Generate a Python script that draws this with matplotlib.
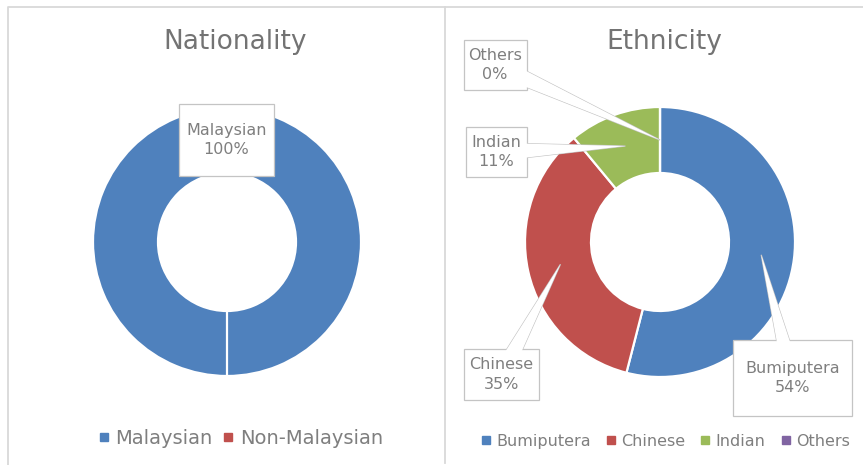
import numpy as np
import matplotlib.pyplot as plt
from matplotlib.lines import Line2D
from matplotlib.patches import Rectangle, Polygon

# ── Data ───────────────────────────────────────────────────────────────────
nat_labels = ["Malaysian", "Non-Malaysian"]
nat_values = [100, 0]
eth_labels = ["Bumiputera", "Chinese", "Indian", "Others"]
eth_values = [54, 35, 11, 0]

colors = ["#4F81BD", "#C0504D", "#9BBB59", "#8064A2"]

# ── Layout (pixel coords, y measured from the top) ────────────────────────
W, H = 863, 465
TXT = "#7f7f7f"
LINE = "#d9d9d9"
BOXEDGE = "#c4c4c4"

# label boxes: centre x, centre y, width, height
nat_boxes = {"Malaysian": (226.5, 140, 95, 72)}
eth_boxes = {
    "Bumiputera": (792.5, 378, 119, 76),
    "Chinese":    (501.5, 374.5, 75, 51),
    "Indian":     (496.5, 152, 61, 50),
    "Others":     (495, 65, 63, 50),
}

plt.rcParams["font.family"] = ["DejaVu Sans"]

fig = plt.figure(figsize=(W / 100, H / 100), dpi=100)
ax = fig.add_axes([0, 0, 1, 1])


def Y(y):
    return H - y


def donut(values, cx, cy, radius, width, start):
    wedges, _ = ax.pie(values, colors=colors[:len(values)], startangle=start,
                       counterclock=False, center=(cx, Y(cy)), radius=radius,
                       wedgeprops=dict(width=width, edgecolor="white",
                                       linewidth=1.6))
    return wedges


def anchor(w):
    ang = np.deg2rad((w.theta1 + w.theta2) / 2)
    r = w.r - w.width / 2
    return w.center[0] + r * np.cos(ang), w.center[1] + r * np.sin(ang)


def callout(text, box, target=None):
    bx, by, bw, bh = box
    cx, cy = bx, Y(by)
    if target is not None:
        tx, ty = target
        d = np.array([tx - cx, ty - cy])
        n = np.array([-d[1], d[0]]) / np.hypot(*d) * 9
        pts = [(cx + n[0], cy + n[1]), (tx, ty), (cx - n[0], cy - n[1])]
        ax.add_patch(Polygon(pts, closed=True, fc="white", ec=BOXEDGE,
                             lw=0.9, zorder=3))
    ax.add_patch(Rectangle((cx - bw / 2, cy - bh / 2), bw, bh, fc="white",
                           ec=BOXEDGE, lw=0.9, zorder=4))
    if target is not None:
        ax.add_patch(Polygon(pts, closed=True, fc="white", ec="none",
                             lw=0, zorder=5))
    ax.text(cx, cy, text, ha="center", va="center", fontsize=11.5,
            color=TXT, linespacing=1.35, zorder=6)


# ── Nationality ───────────────────────────────────────────────────────────
w_nat = donut(nat_values, 227, 242, 134, 65, -90)
for w, lab, v in zip(w_nat, nat_labels, nat_values):
    if lab in nat_boxes:
        callout(f"{lab}\n{v}%", nat_boxes[lab])

ax.text(235, Y(42), "Nationality", ha="center", va="center", fontsize=19,
        color="#737373")

# ── Ethnicity ─────────────────────────────────────────────────────────────
w_eth = donut(eth_values, 660, 242, 135, 66, 90)
for w, lab, v in zip(w_eth, eth_labels, eth_values):
    callout(f"{lab}\n{v}%", eth_boxes[lab], anchor(w))

ax.text(664, Y(42), "Ethnicity", ha="center", va="center", fontsize=19,
        color="#737373")

# ── Legends ───────────────────────────────────────────────────────────────
def handles(n):
    return [Line2D([], [], marker="s", ls="none", color=c, markersize=5.5)
            for c in colors[:n]]


leg1 = ax.legend(handles(2), nat_labels, loc="center",
                 bbox_to_anchor=(241, Y(438)), bbox_transform=ax.transData,
                 ncol=2, frameon=False, fontsize=14, labelcolor=TXT,
                 handlelength=0.5, handletextpad=0.35, columnspacing=0.55)
ax.add_artist(leg1)
ax.legend(handles(4), eth_labels, loc="center",
          bbox_to_anchor=(666, Y(441)), bbox_transform=ax.transData,
          ncol=4, frameon=False, fontsize=11.5, labelcolor=TXT,
          handlelength=0.5, handletextpad=0.4, columnspacing=1.0)

# ── Panel frames ──────────────────────────────────────────────────────────
ax.plot([8, 8, W], [0, Y(7.5), Y(7.5)], color=LINE, lw=1.3, zorder=1)
ax.plot([445, 445], [Y(463), Y(7.5)], color=LINE, lw=1.3, zorder=1)

ax.set_xlim(0, W)
ax.set_ylim(0, H)
ax.set_aspect("equal")
ax.axis("off")

fig.savefig("out.png", dpi=100)
